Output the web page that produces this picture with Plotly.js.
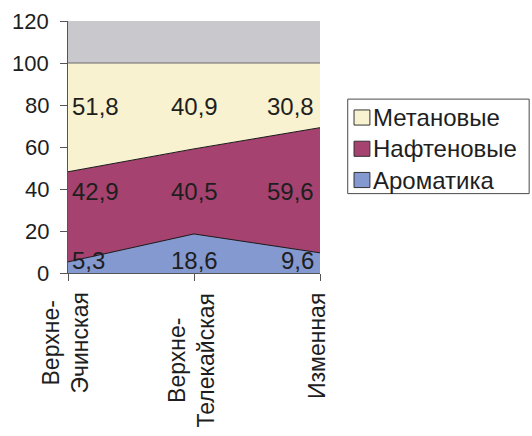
<!DOCTYPE html>
<html>
<head>
<meta charset="utf-8">
<script src="https://cdn.plot.ly/plotly-3.0.1.min.js"></script>
<style>
  html, body { margin: 0; padding: 0; background: #ffffff; }
  #chart { width: 532px; height: 436px; }
</style>
</head>
<body>
<div id="chart"></div>
<script>
// Group composition by formation, percent
const categories = ['Верхне-<br>Эчинская', 'Верхне-<br>Телекайская', 'Изменная'];
const seriesNames = ['Ароматика', 'Нафтеновые', 'Метановые'];
const aromatics = [5.3, 18.6, 9.6];
const naphthenes = [42.9, 40.5, 59.6];
const paraffins = [51.8, 40.9, 30.8];
const yTicks = [0, 20, 40, 60, 80, 100, 120];

const fills = ['#8499d0', '#a5426f', '#f8f2d0'];
const values = [aromatics, naphthenes, paraffins];
const font = 'Liberation Sans, Arial, sans-serif';

const traces = values.map((v, i) => ({
  type: 'scatter',
  mode: 'lines',
  x: categories,
  y: v,
  name: seriesNames[i],
  stackgroup: 'one',
  fillcolor: fills[i],
  line: { color: i === 2 ? '#6a6a6a' : '#1a1a1a', width: 1 },
  hoverinfo: 'skip',
  showlegend: false
}));

// value labels sit on fixed levels per series, like the spreadsheet original
const labelLevels = [6, 38.8, 79.4];
const annotations = [];
values.forEach((v, s) => {
  v.forEach((val, c) => {
    const anchor = c === 0 ? 'left' : (c === categories.length - 1 ? 'right' : 'center');
    annotations.push({
      x: categories[c], y: labelLevels[s], xref: 'x', yref: 'y',
      text: val.toFixed(1).replace('.', ','),
      showarrow: false,
      xanchor: anchor, yanchor: 'middle',
      xshift: c === 0 ? 2 : (anchor === 'right' ? -4 : 0),
      font: { family: font, size: 24, color: '#1e1e1e' }
    });
  });
});

// y tick numbers, set a little further from the axis than the default
yTicks.forEach((t) => {
  annotations.push({
    x: 0, y: t, xref: 'paper', yref: 'y',
    text: String(t), showarrow: false,
    xanchor: 'right', yanchor: 'middle', xshift: -17,
    font: { family: font, size: 22, color: '#1e1e1e' }
  });
});

// category names, rotated, lines centred on each other
categories.forEach((name) => {
  annotations.push({
    x: name, y: 0, xref: 'x', yref: 'paper',
    text: name, showarrow: false,
    textangle: -90, align: 'center',
    xanchor: 'center', yanchor: 'top', yshift: -18, xshift: -3,
    font: { family: font, size: 23, color: '#1e1e1e' }
  });
});

// legend box, top entry first
const shapes = [{
  type: 'rect', xref: 'paper', yref: 'paper',
  x0: 1.11, x1: 1.83, y0: 0.315, y1: 0.69,
  line: { color: '#4a4a4a', width: 1 }, fillcolor: 'rgba(0,0,0,0)'
}];
const legendOrder = [2, 1, 0];
legendOrder.forEach((s, k) => {
  const yc = 0.617 - k * 0.124;
  shapes.push({
    type: 'rect', xref: 'paper', yref: 'paper',
    x0: 1.135, x1: 1.198, y0: yc - 0.03, y1: yc + 0.03,
    line: { color: '#333333', width: 1 }, fillcolor: fills[s]
  });
  annotations.push({
    x: 1.202, y: yc, xref: 'paper', yref: 'paper',
    text: seriesNames[s], showarrow: false,
    xanchor: 'left', yanchor: 'middle',
    font: { family: font, size: 24, color: '#1e1e1e' }
  });
});

const layout = {
  width: 532, height: 436,
  margin: { l: 68, r: 212, t: 21, b: 163 },
  paper_bgcolor: '#ffffff',
  plot_bgcolor: '#c8c8cd',
  showlegend: false,
  font: { family: font, size: 21, color: '#1e1e1e' },
  xaxis: {
    type: 'category', range: [0, 2],
    showgrid: false, zeroline: false,
    showline: true, linecolor: '#555555', linewidth: 1,
    ticks: 'outside', ticklen: 7, tickcolor: '#555555',
    showticklabels: false, automargin: false
  },
  yaxis: {
    range: [0, 120], tickvals: yTicks, showticklabels: false,
    showgrid: false, zeroline: false,
    showline: true, linecolor: '#555555', linewidth: 1,
    ticks: 'outside', ticklen: 7, tickcolor: '#555555',
    automargin: false
  },
  shapes: shapes,
  annotations: annotations
};

Plotly.newPlot('chart', traces, layout, { displayModeBar: false, staticPlot: true });
</script>
</body>
</html>
